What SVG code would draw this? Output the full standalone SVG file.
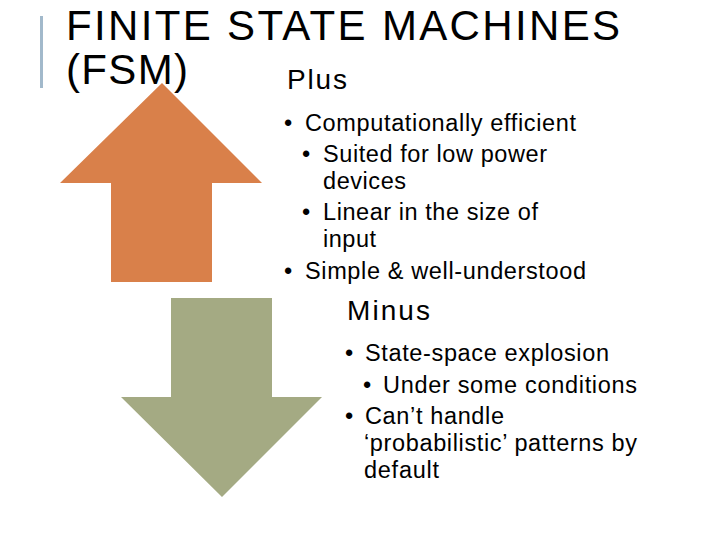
<svg xmlns="http://www.w3.org/2000/svg" width="720" height="540" viewBox="0 0 720 540">
<style>
text{font-family:"Liberation Sans",Arial,sans-serif;fill:#000}
.t{font-size:42px}
.h{font-size:28px}
.b{font-size:23.5px}
</style>
<rect width="720" height="540" fill="#fff"/>
<rect x="40" y="16" width="3" height="72" fill="#a2b9cb"/>
<text class="t" x="66" y="40" textLength="554" lengthAdjust="spacing">FINITE STATE MACHINES</text>
<text class="t" x="66" y="84" textLength="122" lengthAdjust="spacing">(FSM)</text>
<g id="up-arrow"><polygon points="162,83 262,183 212,183 212,282 111,282 111,183 60,183" fill="#d9804a"/></g>
<g id="down-arrow"><polygon points="171,298 272,298 272,397 322,397 222,497 121,397 171,397" fill="#a4aa83"/></g>
<g id="plus">
<text class="h" x="287" y="89" textLength="60">Plus</text>
<text class="b" x="284" y="131">•</text><text class="b" x="305" y="131" textLength="271">Computationally efficient</text>
<text class="b" x="302" y="162">•</text><text class="b" x="323" y="162" textLength="224">Suited for low power</text>
<text class="b" x="323" y="189" textLength="83">devices</text>
<text class="b" x="302" y="220">•</text><text class="b" x="323" y="220" textLength="215">Linear in the size of</text>
<text class="b" x="323" y="247" textLength="53">input</text>
<text class="b" x="284" y="279">•</text><text class="b" x="305" y="279" textLength="281">Simple &amp; well-understood</text>
</g>
<g id="minus">
<text class="h" x="347" y="320" textLength="83">Minus</text>
<text class="b" x="345" y="361">•</text><text class="b" x="365" y="361" textLength="244">State-space explosion</text>
<text class="b" x="363" y="393">•</text><text class="b" x="383" y="393" textLength="254">Under some conditions</text>
<text class="b" x="345" y="424">•</text><text class="b" x="365" y="424" textLength="139">Can’t handle</text>
<text class="b" x="364" y="451" textLength="273">‘probabilistic’ patterns by</text>
<text class="b" x="364" y="478" textLength="75">default</text>
</g>
<g id="connectors"/>
</svg>
